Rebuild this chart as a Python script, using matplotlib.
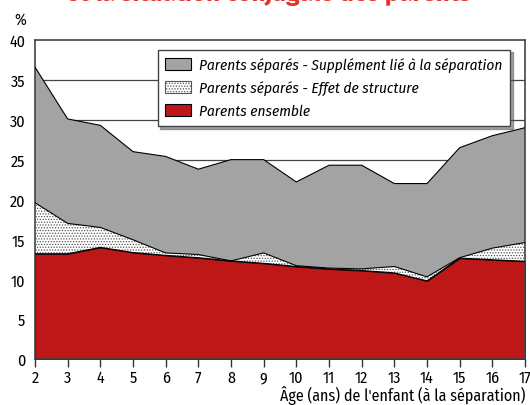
import matplotlib
matplotlib.use("Agg")
import matplotlib.pyplot as plt
from matplotlib.patches import Patch

ages = list(range(2, 18))
# cumulative levels (%)
ensemble = [13.2, 13.2, 14.0, 13.35, 13.0, 12.7, 12.3, 12.0, 11.6, 11.3, 11.1, 10.8, 9.8, 12.65, 12.45, 12.25]
structure_top = [19.6, 17.0, 16.5, 14.95, 13.3, 13.1, 12.3, 13.3, 11.7, 11.4, 11.3, 11.6, 10.3, 12.7, 13.9, 14.6]
total_top = [36.6, 30.1, 29.3, 26.0, 25.4, 23.8, 25.0, 25.0, 22.2, 24.3, 24.3, 22.0, 22.0, 26.5, 28.0, 29.0]

labels = ["Parents séparés - Supplément lié à la séparation",
          "Parents séparés - Effet de structure",
          "Parents ensemble"]
title = "et la situation conjugale des parents"
xlabel = "Âge (ans) de l'enfant (à la séparation)"

plt.rcParams['font.family'] = ['Fira Sans Condensed', 'DejaVu Sans']
plt.rcParams['hatch.linewidth'] = 0.6

fig = plt.figure(figsize=(5.30, 4.06), dpi=100)
ax = fig.add_axes([35/530, 46/406, 490/530, 319/406])

red = "#be1717"
gray = "#a3a3a3"

ax.fill_between(ages, 0, ensemble, facecolor=red, edgecolor="black", linewidth=0.8, zorder=2)
ax.fill_between(ages, ensemble, structure_top, facecolor="white", edgecolor="#555555", hatch="......", linewidth=0, zorder=2)
ax.plot(ages, structure_top, color="black", linewidth=0.8, zorder=3)
ax.plot(ages, ensemble, color="black", linewidth=0.8, zorder=3)
ax.fill_between(ages, structure_top, total_top, facecolor=gray, edgecolor="none", linewidth=0, zorder=2)
ax.plot(ages, total_top, color="black", linewidth=0.8, zorder=3)

ax.set_xlim(2, 17)
ax.set_ylim(0, 40)
ax.set_xticks(ages)
ax.set_yticks(range(0, 41, 5))
for y in range(5, 40, 5):
    ax.axhline(y, color="#444444", linewidth=0.9, zorder=1)
ax.tick_params(axis='x', direction='out', length=6, width=1, labelsize=11.5, pad=1.5, color="#333333")
ax.tick_params(axis='y', length=0, labelsize=11.5, pad=7)
for s in ax.spines.values():
    s.set_color("#444444")
    s.set_linewidth(1.2)

handles = [Patch(facecolor=gray, edgecolor="black", linewidth=0.8),
           Patch(facecolor="white", edgecolor="#555555", hatch="......", linewidth=0.8),
           Patch(facecolor=red, edgecolor="black", linewidth=0.8)]
leg = ax.legend(handles, labels, loc="upper right", bbox_to_anchor=(0.969, 0.970),
                borderaxespad=0,
                prop={'style': 'italic', 'size': 11}, fancybox=False, shadow=True,
                framealpha=1, edgecolor="#444444", handlelength=1.7, handleheight=0.85,
                borderpad=0.5, labelspacing=0.55, handletextpad=0.5)
leg.get_frame().set_linewidth(1.0)
leg.set_zorder(5)

fig.text(14/530, 1 - 20/406, "%", fontsize=11.5, ha="left", va="center")
fig.text(525/530, 1 - 396/406, xlabel, fontsize=11.5, ha="right", va="center")
fig.text(268/530, 1 + 7/406, title, fontsize=17.5, fontweight="bold", color="#e8302a",
         ha="center", va="center", family=['Fira Sans', 'DejaVu Sans'])

fig.savefig("out.png", dpi=100)
